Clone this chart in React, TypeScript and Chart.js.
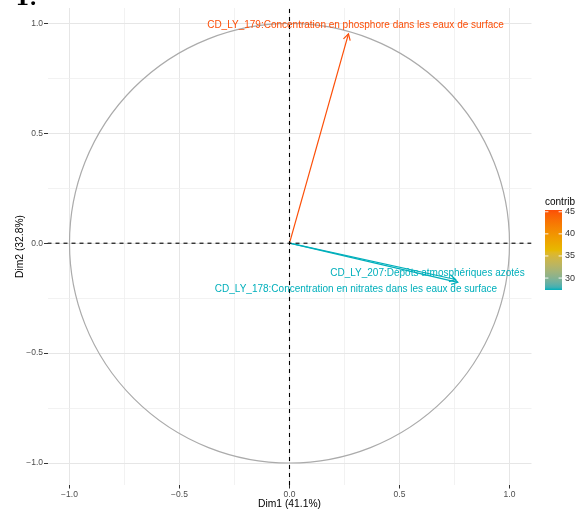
import React, { useEffect, useRef } from "react";
import { Chart, registerables } from "chart.js";

Chart.register(...registerables);

// ---- data ----
const variableNames = [
  "CD_LY_207:Dépôts atmosphériques azotés",
  "CD_LY_179:Concentration en phosphore dans les eaux de surface",
  "CD_LY_178:Concentration en nitrates dans les eaux de surface",
];
const dim1 = [0.755, 0.268, 0.765];
const dim2 = [-0.165, 0.952, -0.178];
const contrib = [27.3, 45.4, 27.3];
const labelDim1 = [0.627, 0.3, 0.302];
const labelDim2 = [-0.1365, 0.992, -0.209];
const gridTicks = [-1, -0.75, -0.5, -0.25, 0, 0.25, 0.5, 0.75, 1];
const legendTicks = [30, 35, 40, 45];
const palette = ["#00AFBB", "#E7B800", "#FC4E07"];
const xTitle = "Dim1 (41.1%)";
const yTitle = "Dim2 (32.8%)";
const legendTitle = "contrib";

const FONT = '"Liberation Sans", Arial, Helvetica, sans-serif';
const cMin = Math.min(...contrib);
const cMax = Math.max(...contrib);

// colour helpers (interpolation in CIE Lab, like ggplot)
function hexToRgb(h: string) {
  const n = parseInt(h.slice(1), 16);
  return [(n >> 16) & 255, (n >> 8) & 255, n & 255];
}
function srgbToLin(c: number) {
  c /= 255;
  return c <= 0.04045 ? c / 12.92 : Math.pow((c + 0.055) / 1.055, 2.4);
}
function linToSrgb(c: number) {
  const v = c <= 0.0031308 ? 12.92 * c : 1.055 * Math.pow(c, 1 / 2.4) - 0.055;
  return Math.round(Math.max(0, Math.min(1, v)) * 255);
}
const WX = 0.95047, WY = 1, WZ = 1.08883;
function rgbToLab(rgb: number[]) {
  const [r, g, b] = rgb.map(srgbToLin);
  const X = (0.4124 * r + 0.3576 * g + 0.1805 * b) / WX;
  const Y = (0.2126 * r + 0.7152 * g + 0.0722 * b) / WY;
  const Z = (0.0193 * r + 0.1192 * g + 0.9505 * b) / WZ;
  const f = (t: number) => (t > 0.008856 ? Math.cbrt(t) : 7.787 * t + 16 / 116);
  const fx = f(X), fy = f(Y), fz = f(Z);
  return [116 * fy - 16, 500 * (fx - fy), 200 * (fy - fz)];
}
function labToRgb(lab: number[]) {
  const fy = (lab[0] + 16) / 116;
  const fx = fy + lab[1] / 500;
  const fz = fy - lab[2] / 200;
  const inv = (t: number) => (t * t * t > 0.008856 ? t * t * t : (t - 16 / 116) / 7.787);
  const X = inv(fx) * WX, Y = inv(fy) * WY, Z = inv(fz) * WZ;
  const r = 3.2406 * X - 1.5372 * Y - 0.4986 * Z;
  const g = -0.9689 * X + 1.8758 * Y + 0.0415 * Z;
  const b = 0.0557 * X - 0.204 * Y + 1.057 * Z;
  return [linToSrgb(r), linToSrgb(g), linToSrgb(b)];
}
const paletteLab = palette.map((p) => rgbToLab(hexToRgb(p)));
function colorFor(v: number) {
  const t = Math.max(0, Math.min(1, (v - cMin) / (cMax - cMin)));
  const seg = t * (palette.length - 1);
  const i = Math.min(palette.length - 2, Math.floor(seg));
  const f = seg - i;
  const a = paletteLab[i];
  const b = paletteLab[i + 1];
  const c = labToRgb(a.map((x, k) => x + (b[k] - x) * f));
  return `rgb(${c[0]},${c[1]},${c[2]})`;
}
const isMajor = (v: number) => Math.abs(v * 2 - Math.round(v * 2)) < 1e-6;
const fmt = (v: number) => {
  const s = Math.abs(v).toFixed(1);
  return v < -1e-9 ? "\u2212" + s : s;
};

const circlePlugin = {
  id: "circle",
  beforeDatasetsDraw(chart: any) {
    const { ctx } = chart;
    const { x, y } = chart.scales;
    const cx = x.getPixelForValue(0);
    const cy = y.getPixelForValue(0);
    const rx = x.getPixelForValue(1) - cx;
    const ry = cy - y.getPixelForValue(1);
    ctx.save();
    ctx.strokeStyle = "#ABABAB";
    ctx.lineWidth = 1.2;
    ctx.beginPath();
    ctx.ellipse(cx, cy, rx, ry, 0, 0, Math.PI * 2);
    ctx.stroke();
    ctx.restore();
  },
};

const arrowPlugin = {
  id: "arrows",
  afterDatasetsDraw(chart: any) {
    const { ctx } = chart;
    const { x, y } = chart.scales;
    ctx.save();
    for (let i = 0; i < dim1.length; i++) {
      const col = colorFor(contrib[i]);
      const x0 = x.getPixelForValue(0);
      const y0 = y.getPixelForValue(0);
      const x1 = x.getPixelForValue(dim1[i]);
      const y1 = y.getPixelForValue(dim2[i]);
      const ang = Math.atan2(y1 - y0, x1 - x0);
      const L = 7;
      const spread = Math.PI / 6;
      ctx.strokeStyle = col;
      ctx.lineWidth = 1.2;
      ctx.beginPath();
      ctx.moveTo(x1 - L * Math.cos(ang - spread), y1 - L * Math.sin(ang - spread));
      ctx.lineTo(x1, y1);
      ctx.lineTo(x1 - L * Math.cos(ang + spread), y1 - L * Math.sin(ang + spread));
      ctx.stroke();
    }
    ctx.font = `10px ${FONT}`;
    ctx.textAlign = "center";
    ctx.textBaseline = "middle";
    for (let i = 0; i < dim1.length; i++) {
      ctx.fillStyle = colorFor(contrib[i]);
      ctx.fillText(variableNames[i], x.getPixelForValue(labelDim1[i]), y.getPixelForValue(labelDim2[i]));
    }
    ctx.restore();
  },
};

const legendPlugin = {
  id: "contribLegend",
  afterDraw(chart: any) {
    const { ctx } = chart;
    const left = 545;
    const top = 210;
    const w = 17;
    const h = 80;
    ctx.save();
    ctx.fillStyle = "#000";
    ctx.font = `10px ${FONT}`;
    ctx.textAlign = "left";
    ctx.textBaseline = "alphabetic";
    ctx.fillText(legendTitle, left, top - 5);
    const g = ctx.createLinearGradient(0, top + h, 0, top);
    const steps = 30;
    for (let s = 0; s <= steps; s++) {
      const v = cMin + ((cMax - cMin) * s) / steps;
      g.addColorStop(s / steps, colorFor(v));
    }
    ctx.fillStyle = g;
    ctx.fillRect(left, top, w, h);
    ctx.font = `9px ${FONT}`;
    ctx.textBaseline = "middle";
    for (const t of legendTicks) {
      const py = top + ((cMax - t) / (cMax - cMin)) * h;
      ctx.strokeStyle = "rgba(255,255,255,0.9)";
      ctx.lineWidth = 1;
      ctx.beginPath();
      ctx.moveTo(left, py);
      ctx.lineTo(left + 3.4, py);
      ctx.moveTo(left + w - 3.4, py);
      ctx.lineTo(left + w, py);
      ctx.stroke();
      ctx.fillStyle = "#333";
      ctx.fillText(String(t), left + w + 3, py);
    }
    ctx.restore();
  },
};

function axisCommon(titleText: string, titlePadding: any) {
  return {
    type: "linear" as const,
    afterBuildTicks: (s: any) => {
      s.ticks = gridTicks.map((v) => ({ value: v }));
    },
    border: { display: false },
    grid: {
      color: (c: any) => (c.tick && isMajor(c.tick.value) ? "#E6E6E6" : "#EFEFEF"),
      lineWidth: (c: any) => (c.tick && isMajor(c.tick.value) ? 1 : 0.8),
      tickColor: (c: any) => (c.tick && isMajor(c.tick.value) ? "#333333" : "rgba(0,0,0,0)"),
      tickLength: 3.5,
      drawTicks: true,
    },
    ticks: {
      autoSkip: false,
      maxRotation: 0,
      padding: 1,
      color: "#4D4D4D",
      font: { family: FONT, size: 8.5 },
      callback: (v: any) => (isMajor(Number(v)) ? fmt(Number(v)) : ""),
    },
    title: {
      display: true,
      text: titleText,
      color: "#000",
      font: { family: FONT, size: 10.3 },
      padding: titlePadding,
    },
  };
}

export default function App() {
  const ref = useRef<HTMLCanvasElement>(null);
  useEffect(() => {
    if (!ref.current) return;
    const dashedH = [
      { x: -1.1, y: 0 },
      { x: 1.1, y: 0 },
    ];
    const dashedV = [
      { x: 0, y: -1.1 },
      { x: 0, y: 1.07 },
    ];
    const arrowSets = dim1.map((d, i) => ({
      data: [
        { x: 0, y: 0 },
        { x: d, y: dim2[i] },
      ],
      showLine: true,
      borderColor: colorFor(contrib[i]),
      borderWidth: 1.2,
      pointRadius: 0,
      label: variableNames[i],
    }));
    const chart = new Chart(ref.current, {
      type: "scatter",
      data: {
        datasets: [
          { data: dashedH, showLine: true, borderColor: "#000", borderWidth: 1.1, borderDash: [4, 4], pointRadius: 0 },
          { data: dashedV, showLine: true, borderColor: "#000", borderWidth: 1.1, borderDash: [4, 4], pointRadius: 0 },
          ...arrowSets,
        ],
      },
      options: {
        animation: false,
        responsive: false,
        layout: { padding: { left: 0, right: 51.5, top: 8, bottom: 0 } },
        plugins: { legend: { display: false }, tooltip: { enabled: false } },
        scales: {
          x: {
            ...axisCommon(xTitle, { top: 0, bottom: 1 }),
            min: -1.1,
            max: 1.1,
            afterFit: (s: any) => {
              s.height = 26;
            },
          },
          y: {
            ...axisCommon(yTitle, { top: 14, bottom: 0 }),
            min: -1.1,
            max: 1.07,
            afterFit: (s: any) => {
              s.width = 47.5;
            },
          },
        },
      } as any,
      plugins: [circlePlugin, arrowPlugin, legendPlugin],
    });
    return () => chart.destroy();
  }, []);
  return (
    <div style={{ position: "fixed", left: 0, top: 0, width: 583, height: 511, overflow: "hidden", background: "#fff" }}>
      <canvas ref={ref} width={583} height={511} style={{ width: 583, height: 511, display: "block" }} />
      <div
        style={{
          position: "absolute",
          left: 15,
          top: -13,
          font: 'bold 21px "DejaVu Serif", serif',
          color: "#000",
          lineHeight: "22px",
        }}
      >
        1.
      </div>
    </div>
  );
}
